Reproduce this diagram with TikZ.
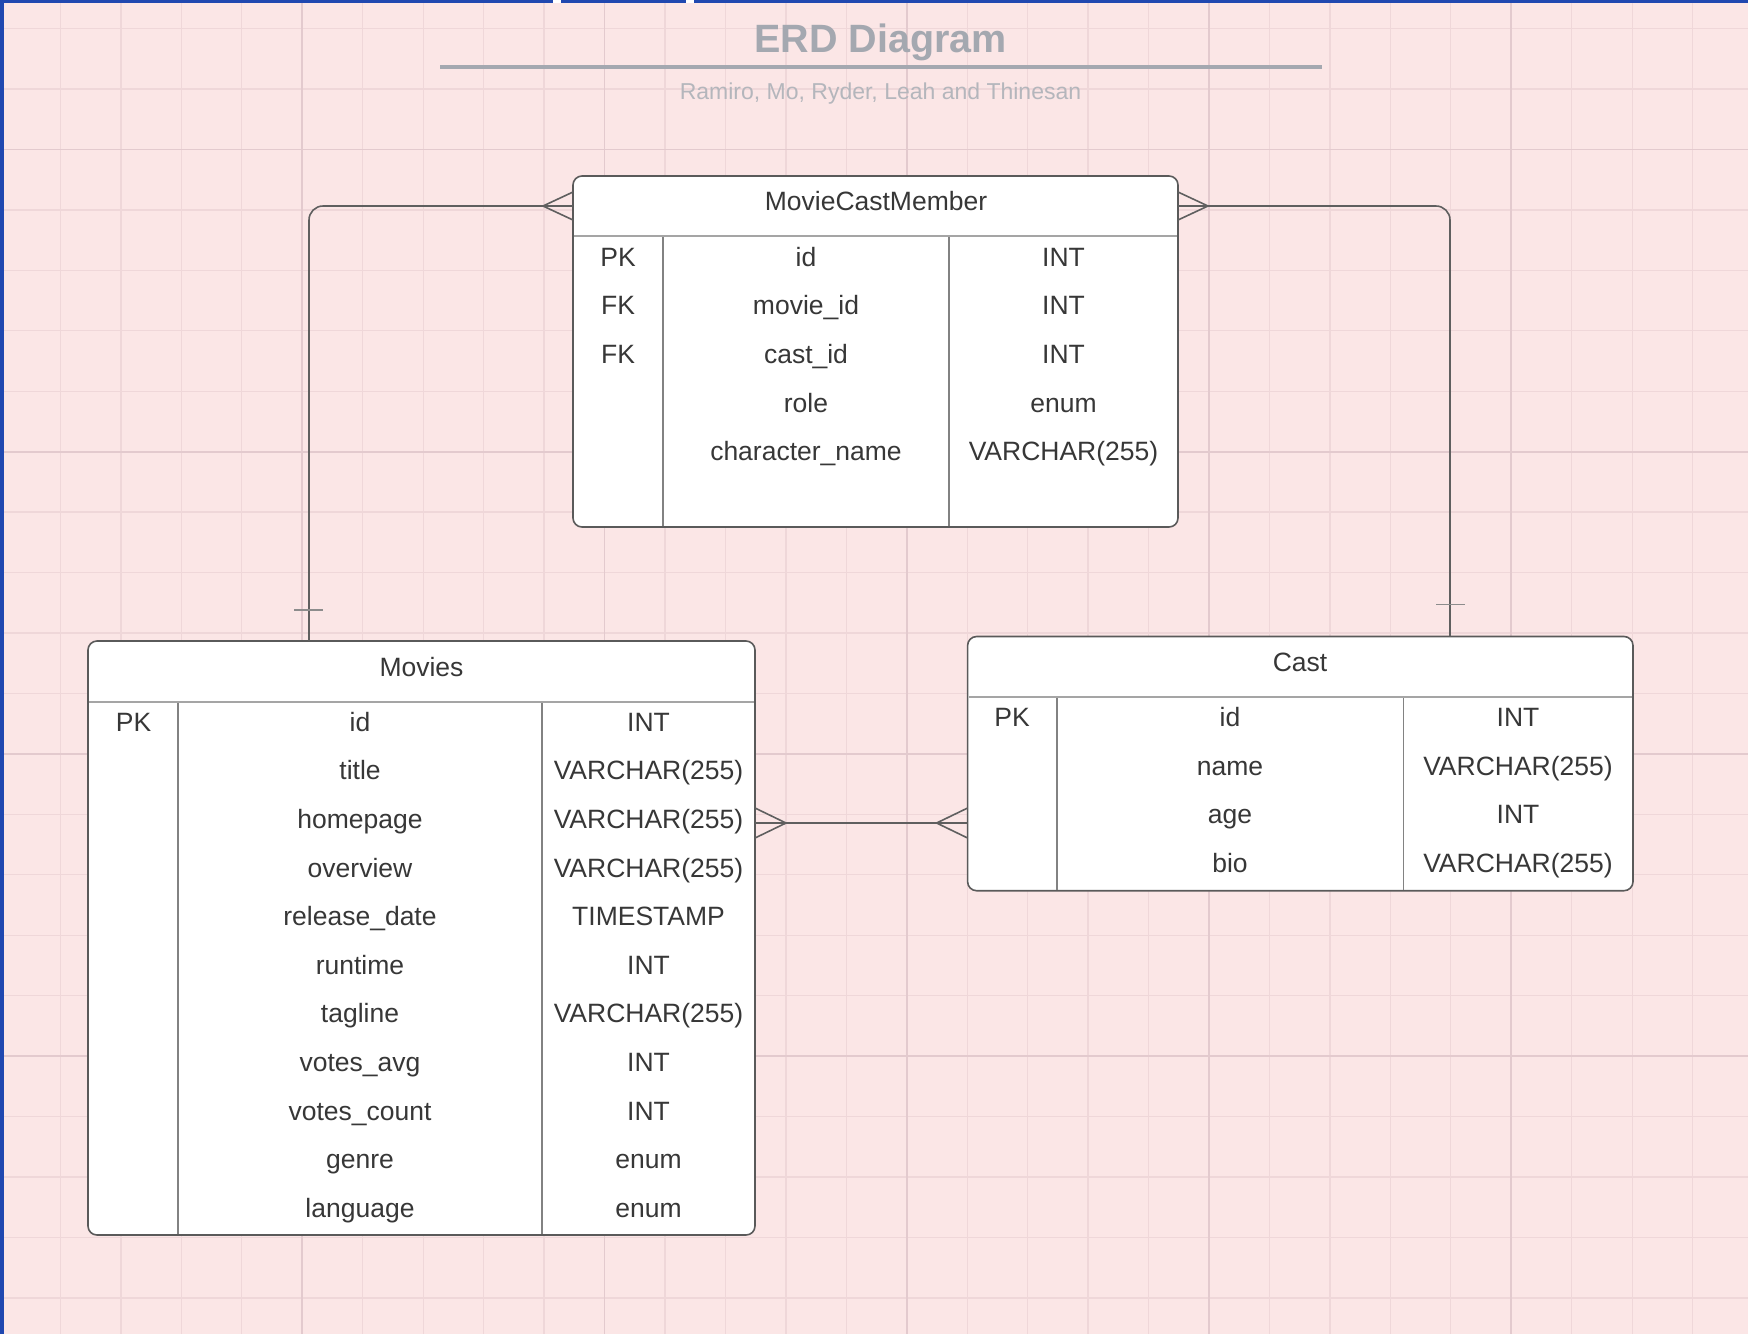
\documentclass[tikz,border=0pt]{standalone}
\usepackage{fontspec}
\setmainfont{Liberation Sans}
\usetikzlibrary{calc}
\definecolor{bgpink}{RGB}{251,230,230}
\definecolor{gridminor}{RGB}{239,215,217}
\definecolor{gridmajor}{RGB}{227,202,206}
\definecolor{edgegray}{RGB}{90,90,90}
\definecolor{divgray}{RGB}{130,130,130}
\definecolor{sepgray}{RGB}{165,165,165}
\definecolor{txtgray}{RGB}{55,55,55}
\definecolor{titlegray}{RGB}{164,168,176}
\definecolor{subgray}{RGB}{180,182,188}
\definecolor{blueborder}{RGB}{32,72,176}
\definecolor{connline}{RGB}{95,95,95}
\definecolor{tickgray}{RGB}{140,140,140}
\begin{document}
\begin{tikzpicture}[x=1pt,y=-1pt,
  tablebox/.style={draw=edgegray, line width=1.6pt, fill=white, rounded corners=9pt, inner sep=0pt, outer sep=0pt, anchor=north west},
  headbox/.style={inner sep=0pt, outer sep=0pt, anchor=north west},
  cell/.style={inner sep=0pt, text=txtgray, font=\fontsize{26.5}{30}\selectfont, text height=0.68em, text depth=0pt, yshift=-5.5pt},
  divline/.style={draw=divgray, line width=1.6pt},
  sepline/.style={draw=sepgray, line width=2.6pt},
  conn/.style={draw=connline, line width=1.6pt},
  tick/.style={draw=tickgray, line width=1.8pt}
]
\useasboundingbox (0,0) rectangle (1748,1334);
\fill[bgpink] (0,0) rectangle (1748,1334);
% grid
\foreach \k in {1,...,28} \draw[gridminor, line width=1.3pt] ({\k*60.45},0) -- ({\k*60.45},1334);
\foreach \k in {0,...,21} \draw[gridminor, line width=1.3pt] (0,{28.5+\k*60.45}) -- (1748,{28.5+\k*60.45});
\foreach \k in {5,10,15,20,25} \draw[gridmajor, line width=1.7pt] ({\k*60.45},0) -- ({\k*60.45},1334);
\foreach \k in {2,7,12,17} \draw[gridmajor, line width=1.7pt] (0,{28.5+\k*60.45}) -- (1748,{28.5+\k*60.45});
% border
\fill[blueborder] (0,0) rectangle (4,1334);
\fill[blueborder] (0,0) rectangle (1748,2.5);
\fill[white] (553,0) rectangle (561,2.5);
\fill[white] (686,0) rectangle (694,2.5);

% title
\node[text=titlegray, font=\bfseries\fontsize{39.5}{44}\selectfont, inner sep=0pt] (title) at (880.5,42.5) {ERD Diagram};
\coordinate (tl1) at (440,67);
\coordinate (tl2) at (1322,67);
\draw[draw=titlegray, line width=3.5pt] (tl1) -- (tl2);
\node[text=subgray, font=\fontsize{23}{26}\selectfont, inner sep=0pt] (subtitle) at (880.5,94) {Ramiro, Mo, Ryder, Leah and Thinesan};

% ---------- MovieCastMember ----------
\node[tablebox, minimum width=605pt, minimum height=351pt] (mcm) at (573,176) {};
\node[headbox, minimum width=605pt, minimum height=60pt] (mcmH) at (573,176) {};
\draw[sepline] (574,236) -- (1177,236);
\draw[divline] (663,237) -- (663,526);
\draw[divline] (949,237) -- (949,526);
\node[cell] (mcmT) at (876,202) {MovieCastMember};
\node[cell] (mcmk1) at (618,257.5) {PK};
\node[cell] (mcmk2) at (618,305.5) {FK};
\node[cell] (mcmk3) at (618,354.5) {FK};
\node[cell] (mcmn1) at (806,257.5) {id};
\node[cell] (mcmn2) at (806,305.5) {movie\_id};
\node[cell] (mcmn3) at (806,354.5) {cast\_id};
\node[cell] (mcmn4) at (806,403.5) {role};
\node[cell] (mcmn5) at (806,451.5) {character\_name};
\node[cell] (mcmt1) at (1063.5,257.5) {INT};
\node[cell] (mcmt2) at (1063.5,305.5) {INT};
\node[cell] (mcmt3) at (1063.5,354.5) {INT};
\node[cell] (mcmt4) at (1063.5,403.5) {enum};
\node[cell] (mcmt5) at (1063.5,451.5) {VARCHAR(255)};

% ---------- Movies ----------
\node[tablebox, minimum width=667pt, minimum height=594pt] (mov) at (88,641) {};
\node[headbox, minimum width=667pt, minimum height=61pt] (movH) at (88,641) {};
\draw[sepline] (89,702) -- (754,702);
\draw[divline] (178,703) -- (178,1234);
\draw[divline] (542,703) -- (542,1234);
\node[cell] (movT) at (421.5,668) {Movies};
\node[cell] (movk1) at (133.5,722.4) {PK};
\foreach \nm/\tp [count=\i from 0] in {id/INT, title/VARCHAR(255), homepage/VARCHAR(255), overview/VARCHAR(255), release\_date/TIMESTAMP, runtime/INT, tagline/VARCHAR(255), votes\_avg/INT, votes\_count/INT, genre/enum, language/enum}{
  \node[cell] (movn\i) at (360,{722.4+\i*48.6}) {\nm};
  \node[cell] (movt\i) at (648.5,{722.4+\i*48.6}) {\tp};
}

% ---------- Cast ----------
\node[tablebox, minimum width=665.4pt, minimum height=254.2pt] (cast) at (967.6,636.5) {};
\node[headbox, minimum width=665.4pt, minimum height=60.5pt] (castH) at (967.6,636.5) {};
\draw[sepline] (968.6,697) -- (1632,697);
\draw[divline] (1057,698) -- (1057,890);
\draw[divline] (1403.5,698) -- (1403.5,890);
\node[cell] (castT) at (1300,663) {Cast};
\node[cell] (castk1) at (1012,718) {PK};
\foreach \nm/\tp [count=\i from 0] in {id/INT, name/VARCHAR(255), age/INT, bio/VARCHAR(255)}{
  \node[cell] (castn\i) at (1230,{718+\i*48.5}) {\nm};
  \node[cell] (castt\i) at (1518,{718+\i*48.5}) {\tp};
}

% ---------- connectors ----------
\coordinate (movTop) at (309,641);
\coordinate (castTop) at (1450,636.5);
\coordinate (movR) at (755,823);
\coordinate (castL) at (967.6,823);

% Movies -> MovieCastMember
\draw[conn, rounded corners=14pt] (movTop) |- (mcmH.west);
\draw[conn] ($(mcmH.west)+(0,-14)$) -- ($(mcmH.west)+(-30,0)$) -- ($(mcmH.west)+(0,14)$);
\draw[tick] ($(movTop)+(-15,-31)$) -- ($(movTop)+(14,-31)$);

% MovieCastMember -> Cast
\draw[conn, rounded corners=14pt] (mcmH.east) -| (castTop);
\draw[conn] ($(mcmH.east)+(0,-14)$) -- ($(mcmH.east)+(30,0)$) -- ($(mcmH.east)+(0,14)$);
\draw[tick] ($(castTop)+(-14,-32)$) -- ($(castTop)+(15,-32)$);

% Movies -> Cast
\draw[conn] (movR) -- (castL);
\draw[conn] ($(movR)+(0,-15)$) -- ($(movR)+(31,0)$) -- ($(movR)+(0,15)$);
\draw[conn] ($(castL)+(0,-15)$) -- ($(castL)+(-31,0)$) -- ($(castL)+(0,15)$);
\end{tikzpicture}
\end{document}
